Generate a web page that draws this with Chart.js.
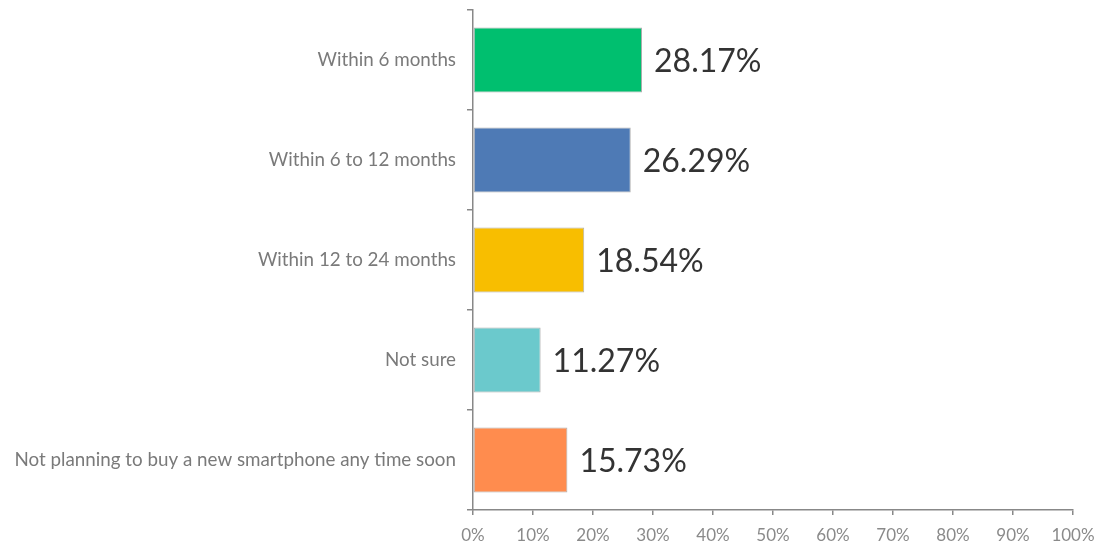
<!DOCTYPE html>
<html>
<head>
<meta charset="utf-8">
<script src="https://cdn.jsdelivr.net/npm/chart.js@4"></script>
<style>
  html, body { margin: 0; padding: 0; background: #fff; }
  #wrap { width: 1101px; height: 545px; position: relative; }
</style>
</head>
<body>
<div id="wrap"><canvas id="c" width="1101" height="545"></canvas></div>
<script>
const categories = [
  "Within 6 months",
  "Within 6 to 12 months",
  "Within 12 to 24 months",
  "Not sure",
  "Not planning to buy a new smartphone any time soon"
];
const values = [28.17, 26.29, 18.54, 11.27, 15.73];
const barColors = ["#00BF6F", "#4E7AB5", "#F8BE00", "#6BC9CC", "#FF8C4E"];
const xTicks = [0, 10, 20, 30, 40, 50, 60, 70, 80, 90, 100];

const valueLabels = {
  id: 'valueLabels',
  afterDatasetsDraw(chart) {
    const ctx = chart.ctx;
    const meta = chart.getDatasetMeta(0);
    ctx.save();
    ctx.font = '32px Lato';
    ctx.fillStyle = '#333333';
    ctx.textAlign = 'left';
    ctx.textBaseline = 'middle';
    meta.data.forEach((bar, i) => {
      ctx.fillText(values[i].toFixed(2) + '%', bar.x + 12, bar.y + 2);
    });
    ctx.restore();
  }
};

new Chart(document.getElementById('c'), {
  type: 'bar',
  data: {
    labels: categories,
    datasets: [{
      data: values,
      backgroundColor: barColors,
      borderColor: 'rgba(120,120,120,0.6)',
      borderWidth: 1,
      borderSkipped: false,
      categoryPercentage: 1.0,
      barPercentage: 0.65
    }]
  },
  options: {
    indexAxis: 'y',
    responsive: false,
    animation: false,
    devicePixelRatio: 1,
    layout: { padding: { left: 0, right: 28, top: 10, bottom: 0 } },
    plugins: { legend: { display: false }, tooltip: { enabled: false } },
    scales: {
      x: {
        min: 0, max: 100,
        afterFit(scale) { scale.height = 35; scale.paddingLeft = 0; scale.paddingRight = 0; },
        afterBuildTicks(scale) { scale.ticks = xTicks.map(v => ({ value: v })); },
        ticks: {
          color: '#8a8a8a',
          font: { family: 'Lato', size: 17 },
          padding: 10,
          maxRotation: 0,
          callback: v => v + '%'
        },
        grid: { display: true, drawOnChartArea: false, drawTicks: true, tickLength: 5, color: '#888', lineWidth: 1.5 },
        border: { display: true, color: '#888', width: 1.5 }
      },
      y: {
        afterFit(scale) { scale.width = 473; scale.paddingTop = 0; scale.paddingBottom = 0; },
        ticks: {
          color: '#7a7a7a',
          font: { family: 'Lato', size: 18.8 },
          padding: 11
        },
        grid: { display: true, offset: true, drawOnChartArea: false, drawTicks: true, tickLength: 6, color: '#888', lineWidth: 1.5 },
        border: { display: true, color: '#888', width: 1.5 }
      }
    }
  },
  plugins: [valueLabels]
});
</script>
</body>
</html>
